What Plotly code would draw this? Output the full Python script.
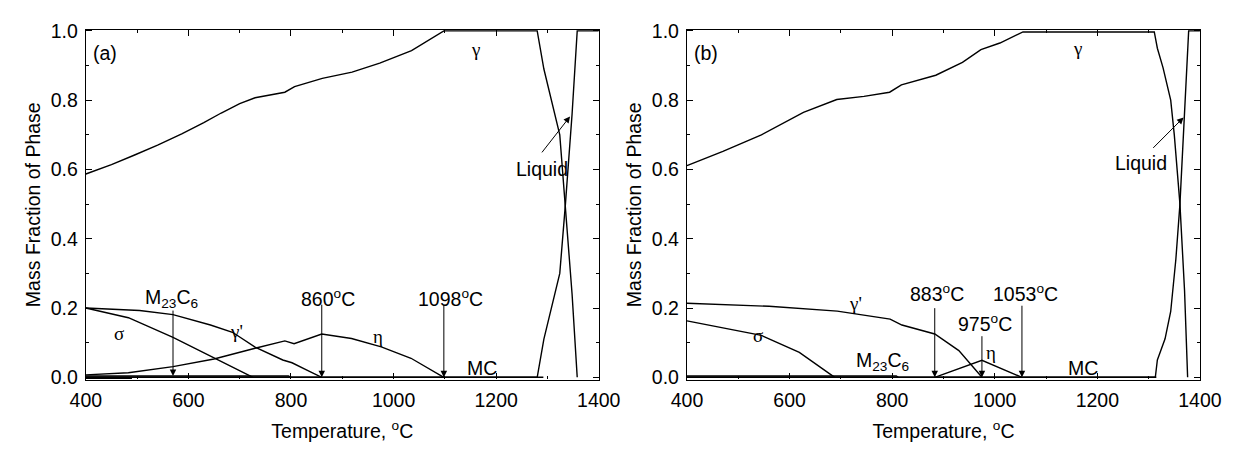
import plotly.graph_objects as go

# ---------------- data (a) ----------------
a_gamma_T = [400, 450, 494, 540, 587, 630, 664, 700, 730, 788, 807, 861, 919, 973, 1035, 1098, 1280, 1293, 1324, 1335, 1348, 1358]
a_gamma_V = [0.587, 0.614, 0.641, 0.670, 0.703, 0.735, 0.763, 0.790, 0.807, 0.823, 0.839, 0.863, 0.881, 0.907, 0.943, 1.0, 1.0, 0.89, 0.70, 0.50, 0.24, 0.0]
a_liq_T = [400, 1280, 1293, 1324, 1335, 1348, 1358, 1400]
a_liq_V = [0.0, 0.0, 0.11, 0.30, 0.50, 0.76, 1.0, 1.0]
a_gp_T = [400, 505, 570, 643, 686, 730, 784, 802, 831, 860]
a_gp_V = [0.2, 0.193, 0.181, 0.151, 0.13, 0.087, 0.05, 0.042, 0.021, 0.0]
a_sig_T = [400, 483, 570, 650, 686, 726]
a_sig_V = [0.2, 0.172, 0.115, 0.055, 0.029, 0.0]
a_eta_T = [400, 483, 570, 650, 730, 788, 806, 860, 918, 976, 1034, 1098]
a_eta_V = [0.007, 0.013, 0.031, 0.053, 0.084, 0.105, 0.097, 0.125, 0.112, 0.088, 0.055, 0.0]
a_m23_T = [400, 795, 800]
a_m23_V = [0.004, 0.004, 0.0]
a_mc_T = [400, 1292]
a_mc_V = [0.0, 0.0]
a_min_T = [400, 490]
a_min_V = [-0.003, -0.003]
a_arrows = [570, 860, 1098]   # M23C6 arrow, transition temperatures

# ---------------- data (b) ----------------
b_gamma_T = [400, 470, 545, 627, 692, 745, 795, 818, 885, 937, 973, 1010, 1055, 1311, 1317, 1328, 1343, 1350, 1361, 1370, 1376]
b_gamma_V = [0.611, 0.652, 0.700, 0.765, 0.802, 0.811, 0.823, 0.844, 0.872, 0.909, 0.946, 0.965, 0.997, 0.997, 0.95, 0.894, 0.80, 0.70, 0.50, 0.25, 0.0]
b_liq_T = [400, 1313, 1317, 1332, 1343, 1353, 1361, 1370, 1378, 1400]
b_liq_V = [0.0, 0.0, 0.05, 0.111, 0.19, 0.34, 0.5, 0.75, 1.0, 1.0]
b_gp_T = [400, 560, 693, 796, 819, 883, 930, 975]
b_gp_V = [0.214, 0.205, 0.191, 0.168, 0.151, 0.125, 0.077, 0.0]
b_sig_T = [400, 545, 619, 688]
b_sig_V = [0.163, 0.121, 0.072, 0.0]
b_eta_T = [883, 975, 1053]
b_eta_V = [0.0, 0.049, 0.0]
b_m23_T = [400, 808, 812]
b_m23_V = [0.004, 0.004, 0.0]
b_mc_T = [400, 1315]
b_mc_V = [0.0, 0.0]
b_arrows = [883, 975, 1053]

FONT = "Liberation Sans, Arial, sans-serif"
SERIF = "Liberation Serif, Times New Roman, serif"
FS = 19.5
GS = 19

fig = go.Figure()
line = dict(color="black", width=1.4)

def add(T, V, xa, ya):
    fig.add_trace(go.Scatter(x=T, y=V, mode="lines", line=line, xaxis=xa, yaxis=ya,
                             showlegend=False, hoverinfo="skip"))

for T, V in [(a_gamma_T, a_gamma_V), (a_liq_T, a_liq_V), (a_gp_T, a_gp_V), (a_sig_T, a_sig_V),
             (a_eta_T, a_eta_V), (a_m23_T, a_m23_V), (a_mc_T, a_mc_V), (a_min_T, a_min_V)]:
    add(T, V, "x", "y")
for T, V in [(b_gamma_T, b_gamma_V), (b_liq_T, b_liq_V), (b_gp_T, b_gp_V), (b_sig_T, b_sig_V),
             (b_eta_T, b_eta_V), (b_m23_T, b_m23_V), (b_mc_T, b_mc_V)]:
    add(T, V, "x2", "y2")

W, H = 1252, 449
yd = [(449 - 385) / H, (449 - 20.7) / H]
ax_common = dict(showline=True, linecolor="black", linewidth=1.3, mirror="allticks",
                 ticks="inside", ticklen=6, tickwidth=1, tickcolor="black",
                 showgrid=False, zeroline=False, ticklabelstandoff=3,
                 tickfont=dict(family=FONT, size=FS, color="black"))
xcommon = dict(ax_common, range=[400, 1400], tick0=400, dtick=200,
               minor=dict(ticks="inside", ticklen=3, dtick=100, tickcolor="black"),
               title=dict(text="Temperature, <sup>o</sup>C", font=dict(family=FONT, size=FS, color="black"),
                          standoff=14))
ycommon = dict(ax_common, range=[-0.0065, 1.003], tick0=0, dtick=0.2, tickformat=".1f",
               minor=dict(ticks="inside", ticklen=3, dtick=0.1, tickcolor="black"),
               title=dict(text="Mass Fraction of Phase", font=dict(family=FONT, size=FS, color="black"),
                          standoff=4))

fig.update_layout(
    width=W, height=H, margin=dict(l=0, r=0, t=0, b=0),
    paper_bgcolor="white", plot_bgcolor="white",
    xaxis=dict(xcommon, domain=[72 / W, 601 / W], anchor="y"),
    yaxis=dict(ycommon, domain=yd, anchor="x"),
    xaxis2=dict(xcommon, domain=[692 / W, 1221 / W], anchor="y2"),
    yaxis2=dict(ycommon, domain=yd, anchor="x2"),
)

ann = []
def text(x, y, s, xr, yr, font=FONT, size=FS, xanchor="center"):
    ann.append(dict(x=x, y=y, xref=xr, yref=yr, text=s, showarrow=False,
                    font=dict(family=font, size=size, color="black"), xanchor=xanchor, yanchor="middle"))

def arrow(x, y, ax, ay, xr, yr):
    ann.append(dict(x=x, y=y, ax=ax, ay=ay, xref=xr, yref=yr, axref=xr, ayref=yr, text="",
                    showarrow=True, arrowhead=2, arrowsize=1.3, arrowwidth=1, arrowcolor="black",
                    standoff=0, startstandoff=0))

# panel (a)
text(410, 0.935, "(a)", "x", "y", xanchor="left")
text(1160, 0.945, "γ", "x", "y", font=SERIF, size=GS)
text(1290, 0.60, "Liquid", "x", "y")
arrow(1344, 0.753, 1287, 0.645, "x", "y")
text(567, 0.228, "M<sub>23</sub>C<sub>6</sub>", "x", "y")
arrow(a_arrows[0], 0.004, a_arrows[0], 0.197, "x", "y")
for t in a_arrows[1:]:
    text(t + 12, 0.228, f"{t}<sup>o</sup>C", "x", "y")
    arrow(t, 0.0, t, 0.214, "x", "y")
text(465, 0.126, "σ", "x", "y", font=SERIF, size=GS)
text(693, 0.132, "γ'", "x", "y", font=SERIF, size=GS)
text(969, 0.118, "η", "x", "y", font=SERIF, size=GS)
text(1172, 0.027, "MC", "x", "y")

# panel (b)
text(410, 0.935, "(b)", "x2", "y2", xanchor="left")
text(1162, 0.95, "γ", "x2", "y2", font=SERIF, size=GS)
text(1285, 0.62, "Liquid", "x2", "y2")
arrow(1368, 0.75, 1306, 0.658, "x2", "y2")
text(b_arrows[0] + 5, 0.244, f"{b_arrows[0]}<sup>o</sup>C", "x2", "y2")
arrow(b_arrows[0], 0.0, b_arrows[0], 0.204, "x2", "y2")
text(b_arrows[1] + 6, 0.156, f"{b_arrows[1]}<sup>o</sup>C", "x2", "y2")
arrow(b_arrows[1], 0.0, b_arrows[1], 0.123, "x2", "y2")
text(b_arrows[2] + 7, 0.244, f"{b_arrows[2]}<sup>o</sup>C", "x2", "y2")
arrow(b_arrows[2], 0.0, b_arrows[2], 0.211, "x2", "y2")
text(993, 0.072, "η", "x2", "y2", font=SERIF, size=GS)
text(728, 0.213, "γ'", "x2", "y2", font=SERIF, size=GS)
text(538, 0.121, "σ", "x2", "y2", font=SERIF, size=GS)
text(781, 0.045, "M<sub>23</sub>C<sub>6</sub>", "x2", "y2")
text(1172, 0.027, "MC", "x2", "y2")

fig.update_layout(annotations=ann)
fig.write_html("out.html")
